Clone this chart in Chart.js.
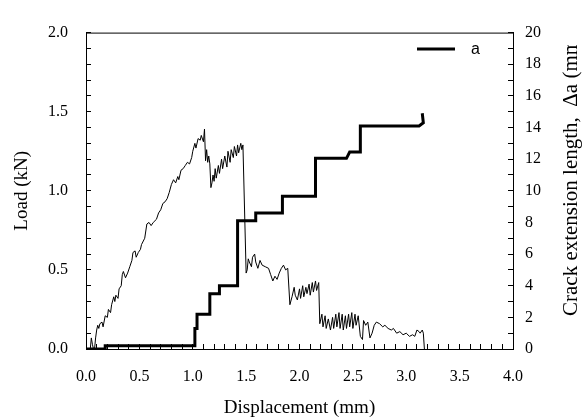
<!DOCTYPE html>
<html>
<head>
<meta charset="utf-8">
<script src="https://cdn.jsdelivr.net/npm/chart.js@4.4.0/dist/chart.umd.min.js"></script>
<style>
  html, body { margin: 0; padding: 0; background: #fff; }
  #wrap { width: 586px; height: 419px; }
</style>
</head>
<body>
<div id="wrap"><canvas id="c" width="586" height="419"></canvas></div>
<script>
// load (left axis) and crack extension (right axis) vs displacement
const loadDisp = [
  0.00, 0.04, 0.05, 0.06, 0.07, 0.08, 0.09, 0.10, 0.11, 0.12, 0.13, 0.15, 0.16, 0.18, 0.20,
  0.21, 0.23, 0.24, 0.26, 0.27, 0.28, 0.30, 0.31, 0.33, 0.34, 0.35, 0.37, 0.39, 0.41, 0.43,
  0.44, 0.46, 0.47, 0.49, 0.51, 0.52, 0.55, 0.57, 0.59, 0.61, 0.63, 0.66, 0.68, 0.70, 0.72,
  0.74, 0.76, 0.78, 0.80, 0.82, 0.84, 0.86, 0.87, 0.89, 0.91, 0.93, 0.95, 0.97, 0.99, 1.00,
  1.02, 1.03, 1.05, 1.07, 1.08, 1.10, 1.11, 1.12, 1.13, 1.14, 1.15, 1.16, 1.17, 1.18, 1.19,
  1.20, 1.21, 1.22, 1.24, 1.25, 1.27, 1.28, 1.30, 1.32, 1.33, 1.35, 1.36, 1.38, 1.39, 1.41,
  1.42, 1.43, 1.45, 1.46, 1.47, 1.50, 1.51, 1.52, 1.53, 1.55, 1.56, 1.58, 1.59, 1.61, 1.63,
  1.65, 1.68, 1.71, 1.73, 1.75, 1.77, 1.79, 1.81, 1.83, 1.85, 1.87, 1.89, 1.91, 1.93, 1.95,
  1.96, 1.98, 2.00, 2.01, 2.03, 2.04, 2.06, 2.07, 2.09, 2.10, 2.12, 2.13, 2.15, 2.16, 2.18,
  2.19, 2.21, 2.22, 2.24, 2.25, 2.27, 2.29, 2.31, 2.32, 2.34, 2.35, 2.37, 2.38, 2.40, 2.41,
  2.43, 2.44, 2.46, 2.47, 2.49, 2.50, 2.52, 2.53, 2.55, 2.57, 2.59, 2.60, 2.62, 2.64, 2.66,
  2.68, 2.70, 2.72, 2.75, 2.78, 2.80, 2.83, 2.86, 2.88, 2.91, 2.94, 2.97, 3.00, 3.03, 3.06,
  3.08, 3.10, 3.12, 3.13, 3.15, 3.16, 3.17
];
const loadKN = [
  0.00, 0.00, 0.07, 0.03, 0.00, 0.00, 0.07, 0.12, 0.15, 0.13, 0.16, 0.17, 0.14, 0.21, 0.20,
  0.25, 0.23, 0.28, 0.33, 0.30, 0.34, 0.32, 0.38, 0.40, 0.47, 0.49, 0.45, 0.48, 0.52, 0.56,
  0.61, 0.62, 0.58, 0.61, 0.63, 0.66, 0.70, 0.79, 0.80, 0.78, 0.80, 0.82, 0.86, 0.88, 0.92,
  0.93, 0.95, 0.99, 1.04, 1.07, 1.05, 1.09, 1.07, 1.13, 1.14, 1.16, 1.18, 1.17, 1.21, 1.25,
  1.30, 1.27, 1.33, 1.32, 1.35, 1.31, 1.39, 1.19, 1.26, 1.18, 1.22, 1.17, 1.02, 1.05, 1.10,
  1.06, 1.14, 1.08, 1.16, 1.11, 1.20, 1.14, 1.22, 1.15, 1.25, 1.18, 1.26, 1.21, 1.28, 1.22,
  1.29, 1.24, 1.30, 1.26, 1.29, 0.48, 0.50, 0.57, 0.55, 0.52, 0.58, 0.60, 0.55, 0.51, 0.56,
  0.53, 0.52, 0.51, 0.47, 0.43, 0.46, 0.44, 0.48, 0.51, 0.53, 0.50, 0.51, 0.28, 0.33, 0.39,
  0.34, 0.31, 0.38, 0.32, 0.40, 0.33, 0.39, 0.35, 0.41, 0.34, 0.42, 0.36, 0.43, 0.37, 0.42,
  0.16, 0.22, 0.14, 0.21, 0.13, 0.19, 0.12, 0.20, 0.13, 0.22, 0.14, 0.23, 0.13, 0.22, 0.12,
  0.21, 0.13, 0.22, 0.14, 0.23, 0.13, 0.22, 0.15, 0.21, 0.08, 0.06, 0.18, 0.15, 0.17, 0.07,
  0.10, 0.15, 0.17, 0.16, 0.14, 0.15, 0.13, 0.12, 0.13, 0.10, 0.11, 0.09, 0.10, 0.08, 0.09,
  0.08, 0.12, 0.11, 0.10, 0.12, 0.10, 0.00
];
const crackDisp = [
  0.00, 0.18, 0.18, 1.02, 1.02, 1.04, 1.04, 1.16, 1.16, 1.25, 1.25, 1.42, 1.42, 1.59, 1.59,
  1.84, 1.84, 2.15, 2.15, 2.44, 2.47, 2.57, 2.57, 3.12, 3.16, 3.15
];
const crackLen = [
  0.0, 0.0, 0.2, 0.2, 1.3, 1.3, 2.2, 2.2, 3.5, 3.5, 4.0, 4.0, 8.1, 8.1, 8.6,
  8.6, 9.65, 9.65, 12.05, 12.05, 12.45, 12.45, 14.1, 14.1, 14.3, 14.9
];

// labelled tick values
const xLabels = [0, 0.5, 1, 1.5, 2, 2.5, 3, 3.5, 4];
const yLabels = [0, 0.5, 1, 1.5, 2];
const y2Labels = [0, 2, 4, 6, 8, 10, 12, 14, 16, 18, 20];

const serif = '"Liberation Serif", "Times New Roman", serif';
const has = (list, v) => list.some(l => Math.abs(l - v) < 1e-6);

const frame = {
  id: 'frame',
  afterDraw(chart) {
    const { ctx, chartArea: a } = chart;
    ctx.save();
    ctx.strokeStyle = '#000';
    ctx.lineWidth = 1;
    ctx.beginPath();
    ctx.moveTo(a.left, a.top + 0.5);
    ctx.lineTo(a.right, a.top + 0.5);
    ctx.stroke();

    // legend for the crack series
    ctx.lineWidth = 3;
    ctx.beginPath();
    ctx.moveTo(a.right - 96, 49);
    ctx.lineTo(a.right - 58, 49);
    ctx.stroke();
    ctx.fillStyle = '#000';
    ctx.font = '16px "Liberation Sans", Arial, sans-serif';
    ctx.textBaseline = 'middle';
    ctx.fillText('a', a.right - 42, 50);

    // right axis title, reads bottom to top and is cut off near the top
    ctx.beginPath();
    ctx.rect(a.right + 1, 45, 200, 400);
    ctx.clip();
    ctx.translate(571, 316);
    ctx.rotate(-Math.PI / 2);
    ctx.font = '21px ' + serif;
    ctx.textAlign = 'left';
    ctx.textBaseline = 'middle';
    ctx.fillText('Crack extension length,  \u0394a (mm)', 0, 0);
    ctx.restore();
  }
};

const tickFont = { family: serif, size: 16 };
const titleFont = { family: serif, size: 19 };
const gridOpts = {
  drawOnChartArea: false,
  drawTicks: true,
  tickLength: -5,
  tickColor: '#000',
  tickWidth: 1
};
const borderOpts = { color: '#000', width: 1 };

new Chart(document.getElementById('c'), {
  type: 'line',
  data: {
    datasets: [
      {
        label: 'Load',
        data: loadDisp.map((d, i) => ({ x: d, y: loadKN[i] })),
        borderColor: '#000',
        borderWidth: 1,
        pointRadius: 0,
        tension: 0,
        yAxisID: 'y'
      },
      {
        label: 'a',
        data: crackDisp.map((d, i) => ({ x: d, y: crackLen[i] })),
        borderColor: '#000',
        borderWidth: 3,
        pointRadius: 0,
        tension: 0,
        yAxisID: 'y2'
      }
    ]
  },
  options: {
    responsive: false,
    animation: false,
    devicePixelRatio: 1,
    layout: { padding: { top: 15, left: 0, right: 0, bottom: 0 } },
    plugins: { legend: { display: false }, tooltip: { enabled: false } },
    scales: {
      x: {
        type: 'linear',
        min: 0, max: 4,
        grid: gridOpts,
        border: borderOpts,
        ticks: {
          stepSize: 0.1, autoSkip: false, maxRotation: 0, padding: 23,
          color: '#000', font: tickFont,
          callback: v => has(xLabels, v) ? v.toFixed(1) : ''
        },
        title: { display: true, text: 'Displacement (mm)', color: '#000', font: titleFont, padding: 0 },
        afterFit: s => { s.height = 70; }
      },
      y: {
        position: 'left',
        min: 0, max: 2,
        grid: gridOpts,
        border: borderOpts,
        ticks: {
          stepSize: 0.1, autoSkip: false, padding: 23,
          color: '#000', font: tickFont,
          callback: v => has(yLabels, v) ? v.toFixed(1) : ''
        },
        title: { display: true, text: 'Load (kN)', color: '#000', font: titleFont, padding: { top: 11 } },
        afterFit: s => { s.width = 86; }
      },
      y2: {
        position: 'right',
        min: 0, max: 20,
        grid: gridOpts,
        border: borderOpts,
        ticks: {
          stepSize: 1, autoSkip: false, padding: 17,
          color: '#000', font: tickFont,
          callback: v => has(y2Labels, v) ? String(v) : ''
        },
        afterFit: s => { s.width = 73; }
      }
    }
  },
  plugins: [frame]
});
</script>
</body>
</html>
